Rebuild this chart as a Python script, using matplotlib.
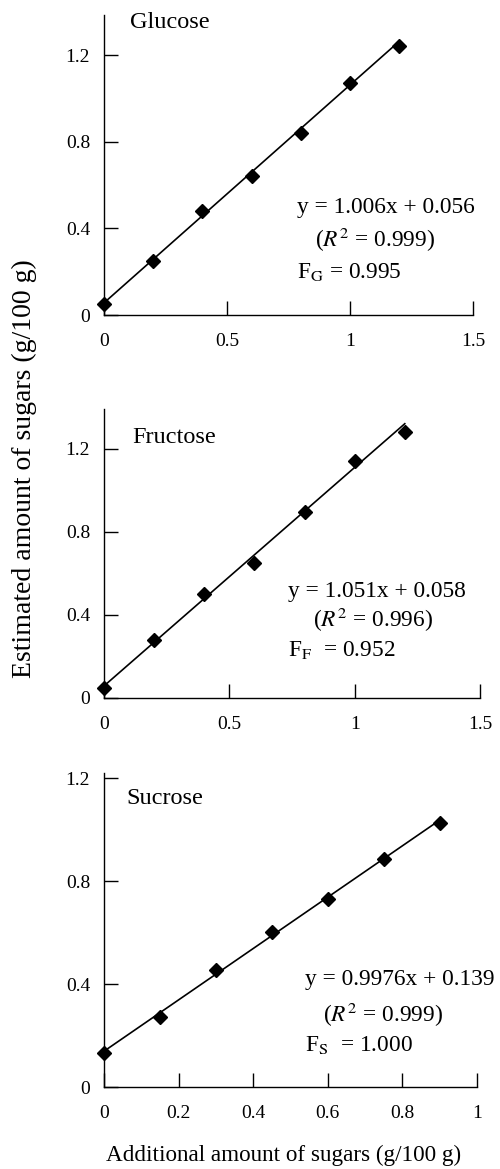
import matplotlib
matplotlib.use("Agg")
import matplotlib.pyplot as plt
import numpy as np

plt.rcParams['font.family'] = ['Liberation Serif', 'DejaVu Serif']
plt.rcParams['mathtext.fontset'] = 'stix'

# ---- data ----
glu_x = [0, 0.2, 0.4, 0.6, 0.8, 1.0, 1.2]
glu_y = [0.05, 0.25, 0.48, 0.64, 0.84, 1.07, 1.24]
glu_fit = (1.006, 0.056)

fru_x = [0, 0.2, 0.4, 0.6, 0.8, 1.0, 1.2]
fru_y = [0.05, 0.28, 0.50, 0.65, 0.895, 1.14, 1.28]
fru_fit = (1.051, 0.058)

suc_x = [0, 0.15, 0.3, 0.45, 0.6, 0.75, 0.9]
suc_y = [0.134, 0.273, 0.453, 0.603, 0.732, 0.886, 1.026]
suc_fit = (0.9976, 0.139)

y_ticks = [0, 0.4, 0.8, 1.2]
y_ticklabels = ["0", "0.4", "0.8", "1.2"]
x_ticks_gf = [0, 0.5, 1, 1.5]
x_ticklabels_gf = ["0", "0.5", "1", "1.5"]
x_ticks_s = [0, 0.2, 0.4, 0.6, 0.8, 1.0]
x_ticklabels_s = ["0", "0.2", "0.4", "0.6", "0.8", "1"]

W, H = 500, 1169
fig = plt.figure(figsize=(W / 100, H / 100), dpi=100)

def ax_px(left, right, top, bottom):
    return fig.add_axes([left / W, 1 - bottom / H, (right - left) / W, (bottom - top) / H])

def style(ax, xlim, ylim, xt, xtl):
    ax.set_xlim(*xlim)
    ax.set_ylim(*ylim)
    for s in ['top', 'right']:
        ax.spines[s].set_visible(False)
    for s in ['left', 'bottom']:
        ax.spines[s].set_linewidth(1.0)
    ax.set_xticks(xt)
    ax.set_xticklabels(xtl)
    ax.set_yticks(y_ticks)
    ax.set_yticklabels(y_ticklabels)
    ax.tick_params(axis='both', direction='in', length=10, width=1.0, labelsize=14)
    ax.tick_params(axis='x', pad=13)
    ax.tick_params(axis='y', pad=10)
    ax.patch.set_alpha(0)

def panel(ax, xs, ys, fit, xmax_line):
    lx = np.array([0, xmax_line])
    ax.plot(lx, fit[0] * lx + fit[1], color='black', lw=1.2, zorder=2, clip_on=False)
    ax.plot(xs, ys, linestyle='none', marker='D', ms=6.8, color='black', zorder=3, clip_on=False)

ax1 = ax_px(104, 473, 15, 315)
style(ax1, (0, 1.5), (0, 1.385), x_ticks_gf, x_ticklabels_gf)
panel(ax1, glu_x, glu_y, glu_fit, 1.2)

ax2 = ax_px(104, 480, 409, 698)
style(ax2, (0, 1.5), (0, 1.39), x_ticks_gf, x_ticklabels_gf)
panel(ax2, fru_x, fru_y, fru_fit, 1.2)

ax3 = ax_px(104, 477, 773, 1087)
style(ax3, (0, 1.0), (0, 1.22), x_ticks_s, x_ticklabels_s)
panel(ax3, suc_x, suc_y, suc_fit, 0.9)

def ftext(x, y, s, size=16.8):
    fig.text(x / W, 1 - y / H, s, ha='left', va='center', fontsize=size)

# Glucose
ftext(130, 22, "Glucose", 17.5)
ftext(297, 207, "y = 1.006x + 0.056")
ftext(315, 240, "($R^{2}$ = 0.999)")
ftext(297, 272, "F$_{\\mathrm{G}}$ = 0.995")

# Fructose
ftext(132, 437, "Fructose", 17.5)
ftext(288, 592, "y = 1.051x + 0.058")
ftext(313, 620, "($R^{2}$ = 0.996)")
ftext(288, 650, "F$_{\\mathrm{F}}$  = 0.952")

# Sucrose
ftext(126, 798, "Sucrose", 17.5)
ftext(305, 980, "y = 0.9976x + 0.139")
ftext(323, 1015, "($R^{2}$ = 0.999)")
ftext(305, 1045, "F$_{\\mathrm{S}}$  = 1.000")

fig.text(24 / W, 1 - 469 / H, "Estimated amount of sugars (g/100 g)", rotation=90,
         ha='center', va='center', fontsize=20)
fig.text(284 / W, 1 - 1155 / H, "Additional amount of sugars (g/100 g)",
         ha='center', va='center', fontsize=16.7)

fig.savefig("out.png", dpi=100)
